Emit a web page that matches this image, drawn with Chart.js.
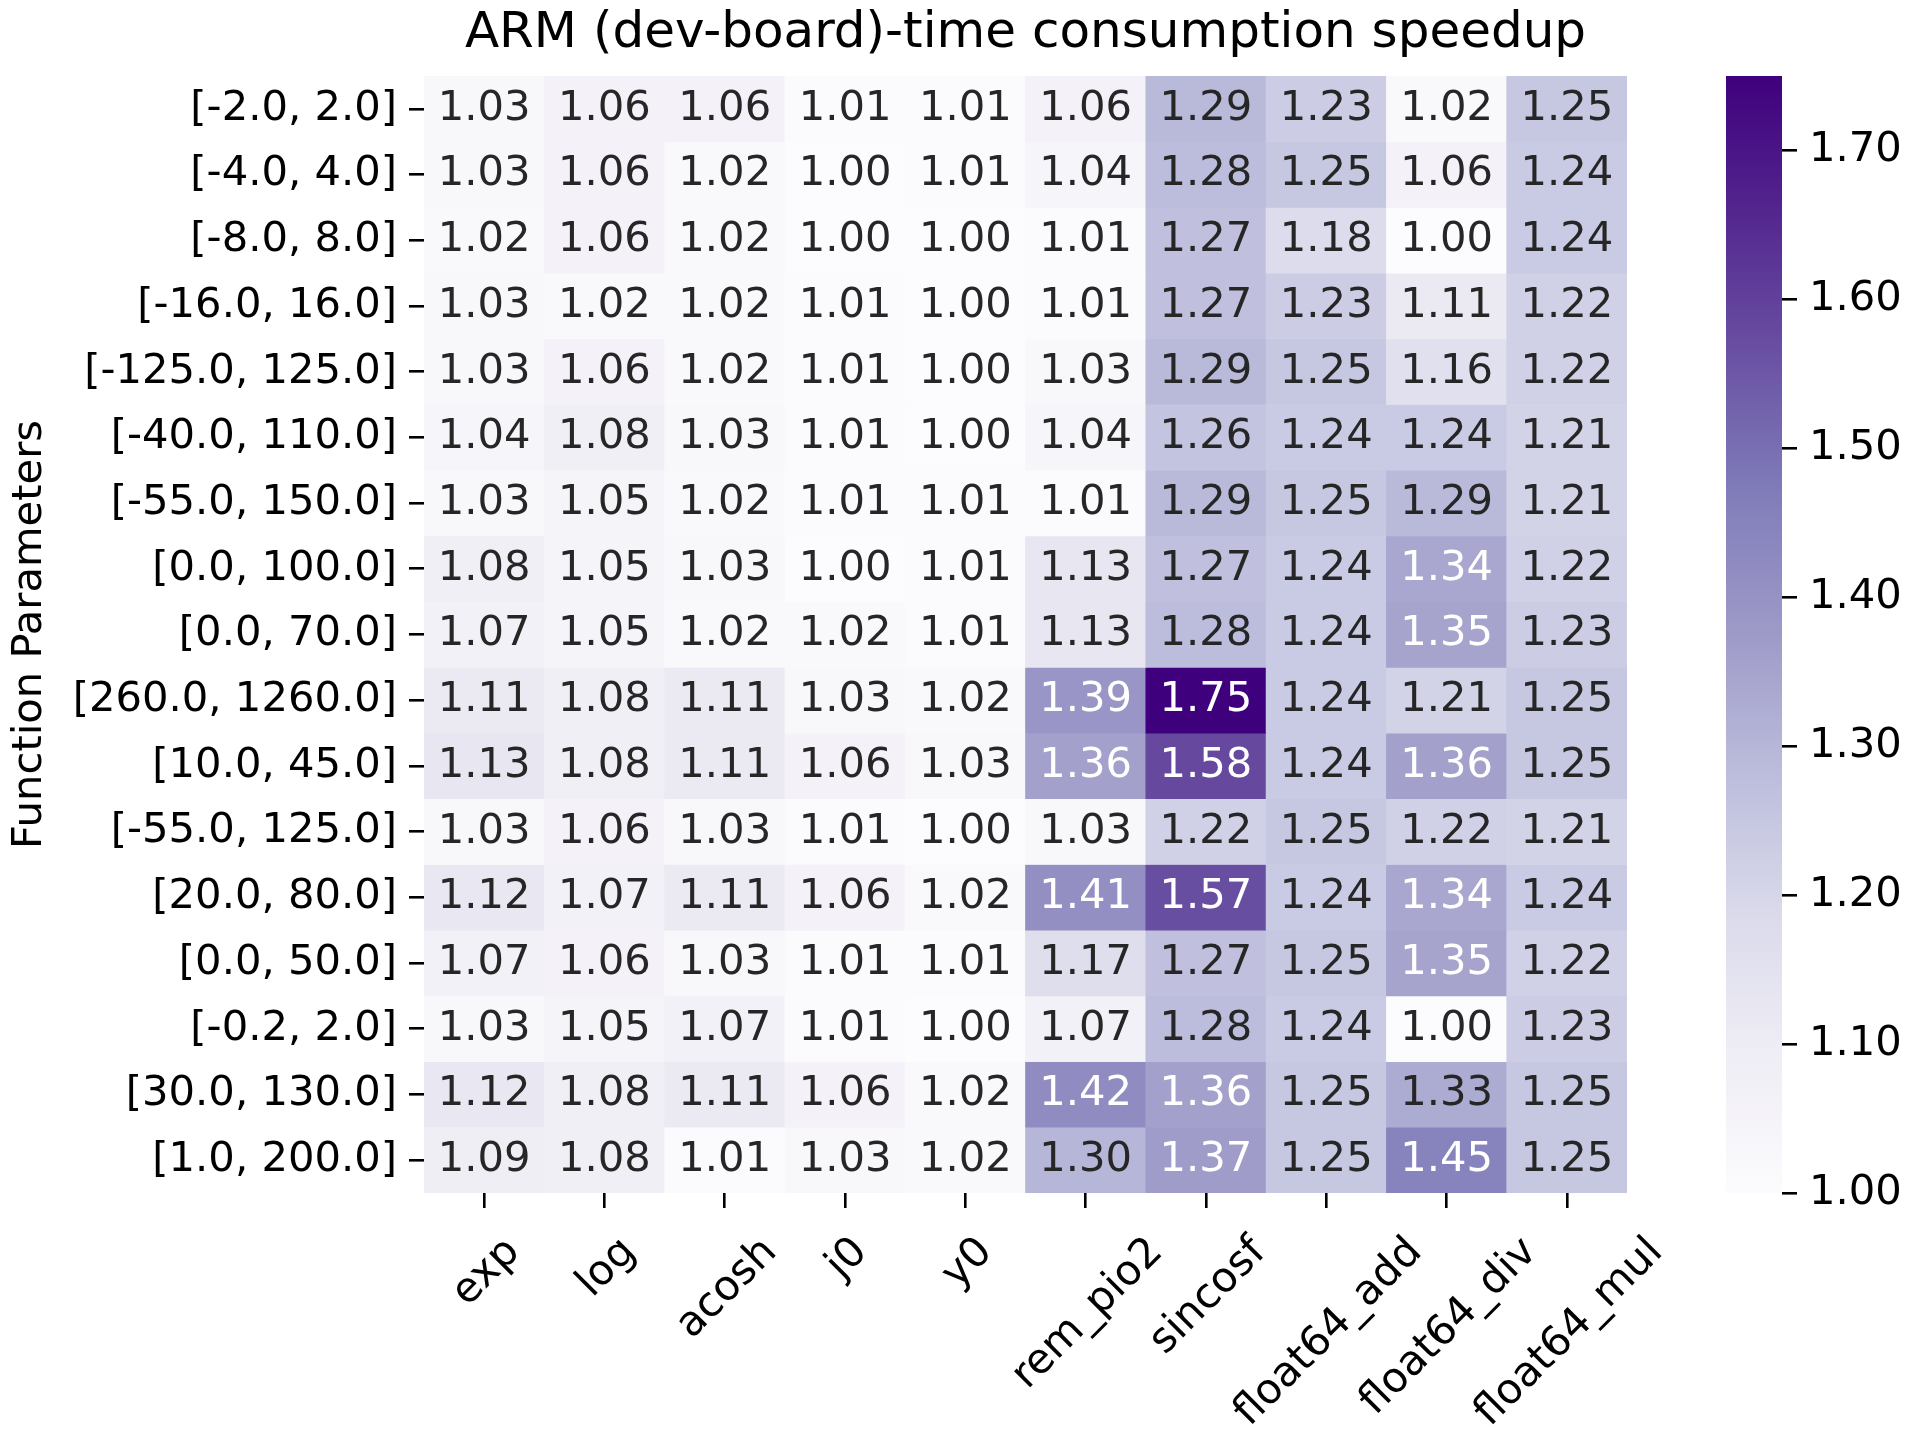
<!DOCTYPE html>
<html>
<head>
<meta charset="utf-8">
<title>ARM (dev-board)-time consumption speedup</title>
<script src="https://cdn.jsdelivr.net/npm/chart.js@4.4.1/dist/chart.umd.min.js"></script>
<style>
  body { margin: 0; background: #fff; }
  #wrap { position: relative; width: 1920px; height: 1440px; }
  #heatmap { position: absolute; left: 0; top: 0; }
  #colorbar { position: absolute; left: 1700px; top: 0; }
</style>
</head>
<body>
<div id="wrap">
  <canvas id="heatmap" width="1920" height="1440"></canvas>
  <canvas id="colorbar" width="220" height="1440"></canvas>
</div>
<script>
const functionNames = ['exp', 'log', 'acosh', 'j0', 'y0', 'rem_pio2', 'sincosf', 'float64_add', 'float64_div', 'float64_mul'];
const paramRanges = ['[-2.0, 2.0]', '[-4.0, 4.0]', '[-8.0, 8.0]', '[-16.0, 16.0]', '[-125.0, 125.0]',
  '[-40.0, 110.0]', '[-55.0, 150.0]', '[0.0, 100.0]', '[0.0, 70.0]', '[260.0, 1260.0]', '[10.0, 45.0]',
  '[-55.0, 125.0]', '[20.0, 80.0]', '[0.0, 50.0]', '[-0.2, 2.0]', '[30.0, 130.0]', '[1.0, 200.0]'];

// speedup of each function, one value per parameter range (top row first)
const exp         = [1.03, 1.03, 1.02, 1.03, 1.03, 1.04, 1.03, 1.08, 1.07, 1.11, 1.13, 1.03, 1.12, 1.07, 1.03, 1.12, 1.09];
const log         = [1.06, 1.06, 1.06, 1.02, 1.06, 1.08, 1.05, 1.05, 1.05, 1.08, 1.08, 1.06, 1.07, 1.06, 1.05, 1.08, 1.08];
const acosh       = [1.06, 1.02, 1.02, 1.02, 1.02, 1.03, 1.02, 1.03, 1.02, 1.11, 1.11, 1.03, 1.11, 1.03, 1.07, 1.11, 1.01];
const j0          = [1.01, 1.00, 1.00, 1.01, 1.01, 1.01, 1.01, 1.00, 1.02, 1.03, 1.06, 1.01, 1.06, 1.01, 1.01, 1.06, 1.03];
const y0          = [1.01, 1.01, 1.00, 1.00, 1.00, 1.00, 1.01, 1.01, 1.01, 1.02, 1.03, 1.00, 1.02, 1.01, 1.00, 1.02, 1.02];
const rem_pio2    = [1.06, 1.04, 1.01, 1.01, 1.03, 1.04, 1.01, 1.13, 1.13, 1.39, 1.36, 1.03, 1.41, 1.17, 1.07, 1.42, 1.30];
const sincosf     = [1.29, 1.28, 1.27, 1.27, 1.29, 1.26, 1.29, 1.27, 1.28, 1.75, 1.58, 1.22, 1.57, 1.27, 1.28, 1.36, 1.37];
const float64_add = [1.23, 1.25, 1.18, 1.23, 1.25, 1.24, 1.25, 1.24, 1.24, 1.24, 1.24, 1.25, 1.24, 1.25, 1.24, 1.25, 1.25];
const float64_div = [1.02, 1.06, 1.00, 1.11, 1.16, 1.24, 1.29, 1.34, 1.35, 1.21, 1.36, 1.22, 1.34, 1.35, 1.00, 1.33, 1.45];
const float64_mul = [1.25, 1.24, 1.24, 1.22, 1.22, 1.21, 1.21, 1.22, 1.23, 1.25, 1.25, 1.21, 1.24, 1.22, 1.23, 1.25, 1.25];

const colorbarTicks = [1.00, 1.10, 1.20, 1.30, 1.40, 1.50, 1.60, 1.70];

const series = [exp, log, acosh, j0, y0, rem_pio2, sincosf, float64_add, float64_div, float64_mul];
const vmin = Math.min(...series.flat());
const vmax = Math.max(...series.flat());

// matplotlib "Purples"
const purples = ['#fcfbfd', '#efedf5', '#dadaeb', '#bcbddc', '#9e9ac8', '#807dba', '#6a51a3', '#54278f', '#3f007d']
  .map(h => [1, 3, 5].map(k => parseInt(h.substr(k, 2), 16)));

function purplesRgb(t) {
  t = Math.max(0, Math.min(1, t));
  const pos = t * (purples.length - 1);
  const i = Math.min(Math.floor(pos), purples.length - 2);
  const f = pos - i;
  return purples[i].map((c, k) => c + (purples[i + 1][k] - c) * f);
}

function cellRgb(v) {
  return purplesRgb((v - vmin) / (vmax - vmin));
}

function rgbStr(rgb) {
  return `rgb(${rgb.map(Math.round).join(',')})`;
}

// same rule seaborn uses to pick the annotation colour
function luminance(rgb) {
  const lin = c => {
    c /= 255;
    return c <= 0.03928 ? c / 12.92 : Math.pow((c + 0.055) / 1.055, 2.4);
  };
  return 0.2126 * lin(rgb[0]) + 0.7152 * lin(rgb[1]) + 0.0722 * lin(rgb[2]);
}

Chart.defaults.font.family = '"DejaVu Sans", sans-serif';

const tickGrid = {
  offset: false,
  drawOnChartArea: false,
  drawTicks: true,
  tickLength: 15,
  color: '#000',
  lineWidth: 2.6
};

const cellLabels = {
  id: 'cellLabels',
  afterDatasetsDraw(chart) {
    const ctx = chart.ctx;
    const fs = 41.7;
    ctx.save();
    ctx.font = `${fs}px "DejaVu Sans"`;
    ctx.textAlign = 'center';
    ctx.textBaseline = 'alphabetic';
    paramRanges.forEach((_, r) => {
      const meta = chart.getDatasetMeta(r);
      meta.data.forEach((bar, c) => {
        const v = series[c][r];
        ctx.fillStyle = luminance(cellRgb(v)) > 0.408 ? '#262626' : '#ffffff';
        const cy = (bar.y + bar.base) / 2;
        ctx.fillText(v.toFixed(2), bar.x, cy + fs * 0.262);
      });
    });
    ctx.restore();
  }
};

// rotated x labels, centred under each tick like matplotlib's ha='center'
const xLabels = {
  id: 'xLabels',
  afterDraw(chart) {
    const ctx = chart.ctx;
    const xs = chart.scales.x;
    const fs = 41.7;
    const top = chart.chartArea.bottom + 33;
    ctx.save();
    ctx.font = `${fs}px "DejaVu Sans"`;
    ctx.fillStyle = '#000';
    ctx.textAlign = 'center';
    ctx.textBaseline = 'alphabetic';
    functionNames.forEach((name, i) => {
      const w = ctx.measureText(name).width;
      const side = (w + fs * 1.164) * Math.SQRT1_2;
      ctx.save();
      ctx.translate(xs.getPixelForTick(i), top + side / 2);
      ctx.rotate(-Math.PI / 4);
      ctx.fillText(name, 0, fs * 0.346);
      ctx.restore();
    });
    ctx.restore();
  }
};

new Chart(document.getElementById('heatmap'), {
  type: 'bar',
  data: {
    labels: functionNames,
    datasets: paramRanges.map((range, r) => ({
      label: range,
      data: functionNames.map(() => [r, r + 1]),
      backgroundColor: functionNames.map((_, c) => rgbStr(cellRgb(series[c][r]))),
      borderWidth: 0,
      barPercentage: 1,
      categoryPercentage: 1,
      grouped: false
    }))
  },
  options: {
    responsive: false,
    animation: false,
    devicePixelRatio: 1,
    layout: { padding: { left: 0, right: 293, top: 4, bottom: 0 } },
    plugins: {
      legend: { display: false },
      tooltip: { enabled: false },
      title: {
        display: true,
        text: 'ARM (dev-board)-time consumption speedup',
        color: '#000',
        font: { size: 50, weight: 'normal' },
        padding: { top: 0, bottom: 12 },
        fullSize: false
      }
    },
    scales: {
      x: {
        type: 'category',
        grid: tickGrid,
        border: { display: false },
        ticks: { display: false },
        afterFit: s => { s.height = 247; }
      },
      y: {
        type: 'linear',
        min: 0,
        max: paramRanges.length,
        reverse: true,
        grid: tickGrid,
        border: { display: false },
        ticks: {
          autoSkip: false,
          padding: 12,
          color: '#000',
          font: { size: 41.7 },
          callback: (v, i) => paramRanges[i]
        },
        afterBuildTicks: s => { s.ticks = paramRanges.map((_, i) => ({ value: i + 0.5 })); },
        afterFit: s => { s.width = 424; },
        title: {
          display: true,
          text: 'Function Parameters',
          color: '#000',
          font: { size: 41.7 },
          padding: { top: 5 }
        }
      }
    }
  },
  plugins: [cellLabels, xLabels]
});

function colorbarGradient(chart) {
  const area = chart.chartArea;
  if (!area) return null;
  const g = chart.ctx.createLinearGradient(0, area.bottom, 0, area.top);
  purples.forEach((rgb, i) => g.addColorStop(i / (purples.length - 1), rgbStr(rgb)));
  return g;
}

new Chart(document.getElementById('colorbar'), {
  type: 'bar',
  data: {
    labels: [''],
    datasets: [{
      data: [[vmin, vmax]],
      backgroundColor: ctx => colorbarGradient(ctx.chart),
      borderWidth: 0,
      barPercentage: 1,
      categoryPercentage: 1
    }]
  },
  options: {
    responsive: false,
    animation: false,
    devicePixelRatio: 1,
    layout: { padding: { left: 26, right: 0, top: 76, bottom: 247 } },
    plugins: { legend: { display: false }, tooltip: { enabled: false } },
    scales: {
      x: { display: false },
      y: {
        type: 'linear',
        position: 'right',
        min: vmin,
        max: vmax,
        grid: tickGrid,
        border: { display: false },
        ticks: {
          padding: 12,
          color: '#000',
          font: { size: 41.7 },
          callback: v => v.toFixed(2)
        },
        afterBuildTicks: s => { s.ticks = colorbarTicks.map(v => ({ value: v })); },
        afterFit: s => { s.width = 138; }
      }
    }
  }
});
</script>
</body>
</html>
